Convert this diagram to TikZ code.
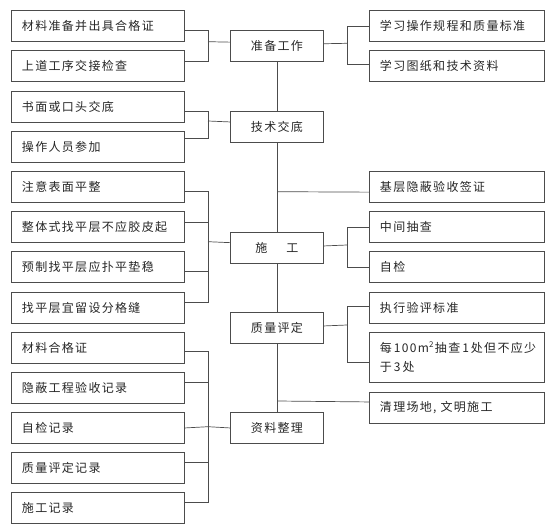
\documentclass[tikz,border=0pt]{standalone}
\usepackage{fontspec}
\setmainfont{Noto Sans CJK SC}[LetterSpace=11]
\begin{document}
\begin{tikzpicture}[x=1pt,y=-1pt,
  box/.style={draw=black!70, line width=0.9pt, minimum height=31pt, inner ysep=0pt,
    anchor=north west, font=\fontsize{12}{19.5}\selectfont, text=black!85},
  lbox/.style={box, text width=152pt, inner xsep=10.5pt, align=left},
  cbox/.style={box, minimum width=93pt, align=center},
  rbox/.style={box, text width=154pt, inner xsep=10.5pt, align=left},
  ln/.style={draw=black!70, line width=0.7pt}]
\useasboundingbox (0,0) rectangle (554,526);

% left boxes
\node[lbox] (L1) at (11,10) {材料准备并出具合格证};
\node[lbox] (L2) at (11,50) {上道工序交接检查};
\node[lbox] (L3) at (11,91) {书面或口头交底};
\node[lbox] (L4) at (11,131) {操作人员参加};
\node[lbox] (L5) at (11,171) {注意表面平整};
\node[lbox] (L6) at (11,211) {整体式找平层不应胶皮起};
\node[lbox] (L7) at (11,251) {预制找平层应扑平垫稳};
\node[lbox] (L8) at (11,292) {找平层宜留设分格缝};
\node[lbox] (L9) at (11,332) {材料合格证};
\node[lbox] (L10) at (11,372) {隐蔽工程验收记录};
\node[lbox] (L11) at (11,412) {自检记录};
\node[lbox] (L12) at (11,452) {质量评定记录};
\node[lbox] (L13) at (11,492) {施工记录};

% centre boxes
\node[cbox] (P1) at (230,30) {准备工作};
\node[cbox] (P2) at (230,111) {技术交底};
\node[cbox] (P3) at (230,232) {施\hspace{19pt}工};
\node[cbox] (P4) at (230,312) {质量评定};
\node[cbox] (P5) at (230,412) {资料整理};

% right boxes
\node[rbox] (R1) at (369,10) {学习操作规程和质量标准};
\node[rbox] (R2) at (369,50) {学习图纸和技术资料};
\node[rbox] (R3) at (369,171) {基层隐蔽验收签证};
\node[rbox] (R4) at (369,211) {中间抽查};
\node[rbox] (R5) at (369,251) {自检};
\node[rbox] (R6) at (369,292) {执行验评标准};
\node[rbox, minimum height=50pt] (R7) at (369,332) {\mbox{每\hspace{2pt}100m\textsuperscript{2}\hspace{1pt}抽查\hspace{2pt}1\hspace{2pt}处但不应少}\\于\hspace{2pt}3\hspace{2pt}处};
\node[rbox] (R8) at (369,392) {清理场地, 文明施工};

% spine
\draw[ln] (P1.south) -- (P2.north);
\draw[ln] (P2.south) -- (P3.north);
\draw[ln] (P3.south) -- (P4.north);
\draw[ln] (P4.south) -- (P5.north);

% group A
\coordinate (jA) at (208,41.7);
\draw[ln] ([yshift=-4.5pt]L1.east) -| (jA);
\draw[ln] ([yshift=4.8pt]L2.east) -| (jA);
\draw[ln] (jA) -- ([yshift=3.8pt]P1.west);
\coordinate (kA) at (347,43.3);
\draw[ln] ([yshift=2.2pt]P1.east) -- (kA);
\draw[ln] (kA) |- (R1.west);
\draw[ln] (kA) |- ([yshift=1.5pt]R2.west);

% group B
\coordinate (jB) at (208,121);
\draw[ln] ([yshift=-4pt]L3.east) -| (jB);
\draw[ln] ([yshift=9pt]L4.east) -| (jB);
\draw[ln] (jB) -- ([yshift=5pt]P2.west);

% group C
\coordinate (jC) at (208,241.7);
\draw[ln] ([yshift=-4pt]L5.east) -| (jC);
\draw[ln] ([yshift=4.3pt]L6.east) -| (jC);
\draw[ln] ([yshift=-4pt]L7.east) -| (jC);
\draw[ln] ([yshift=6pt]L8.east) -| (jC);
\draw[ln] (jC) -- ([yshift=5.3pt]P3.west);
\coordinate (kC) at (347,245);
\draw[ln] ([yshift=2pt]P3.east) -- (kC);
\draw[ln] (kC) |- (R4.west);
\draw[ln] (kC) |- (R5.west);
\coordinate (s3) at (277,191.7);
\draw[ln] (s3) -- ([yshift=-5.2pt]R3.west);

% group D
\coordinate (kD) at (347,325);
\draw[ln] ([yshift=2pt]P4.east) -- (kD);
\draw[ln] (kD) |- ([yshift=2pt]R6.west);
\draw[ln] (kD) |- ([yshift=-4.7pt]R7.west);
\coordinate (s8) at (277,401);
\draw[ln] (s8) -- ([yshift=6pt]R8.west);

% group E
\coordinate (jE) at (208,426.7);
\draw[ln] ([yshift=-3.7pt]L9.east) -| (jE);
\draw[ln] ([yshift=5.3pt]L10.east) -| (jE);
\draw[ln] (L11.east) -- (jE);
\draw[ln] ([yshift=6pt]L12.east) -| (jE);
\draw[ln] ([yshift=5.5pt]L13.east) -| (jE);
\draw[ln] (jE) -- (P5.west);
\end{tikzpicture}
\end{document}
